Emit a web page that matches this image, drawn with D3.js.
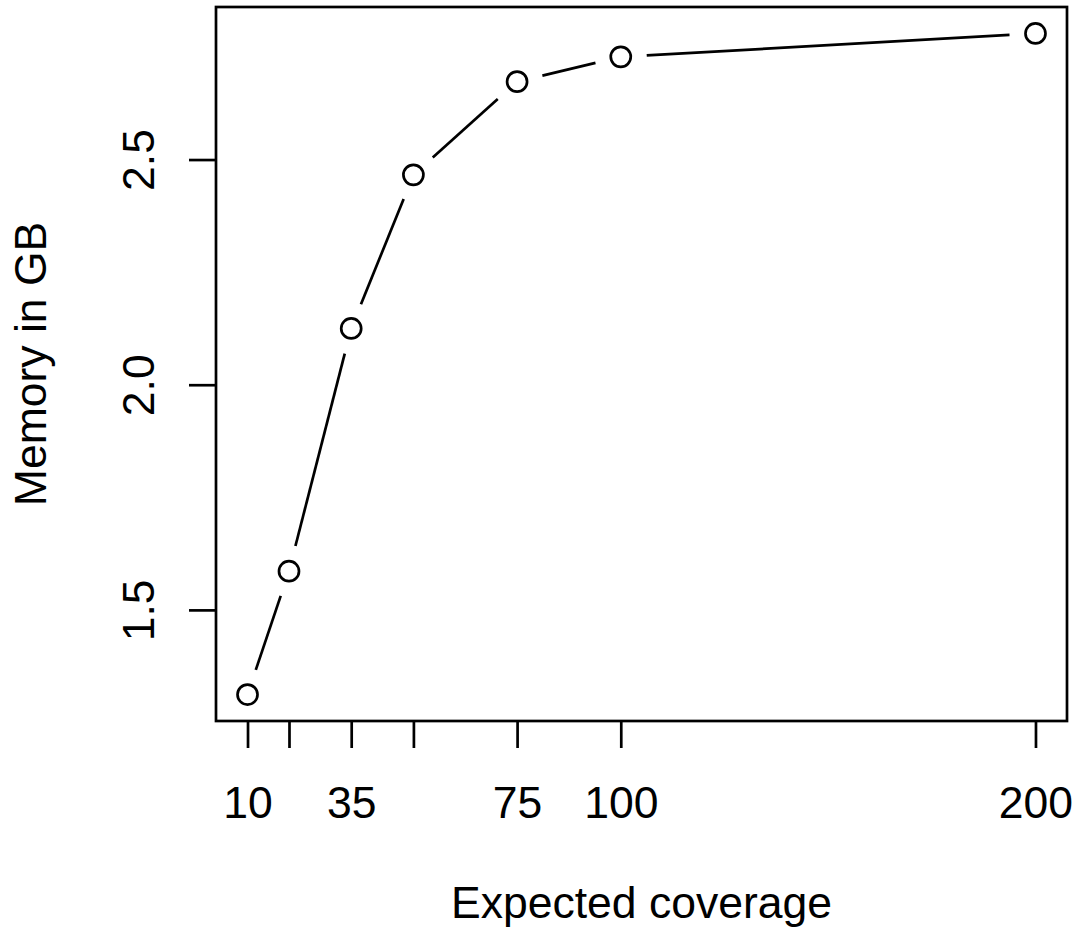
<!DOCTYPE html>
<html>
<head>
<meta charset="utf-8">
<script src="https://cdn.jsdelivr.net/npm/d3@7"></script>
<style>
  html, body { margin: 0; padding: 0; background: #fff; }
  svg { display: block; }
  text { font-family: "Liberation Sans", Arial, sans-serif; fill: #000; }
</style>
</head>
<body>
<script>
// ---- data ----
const coverage = [10, 20, 35, 50, 75, 100, 200];
const memoryGB = [1.312, 1.586, 2.125, 2.466, 2.673, 2.728, 2.780];
const xTickValues = [10, 20, 35, 50, 75, 100, 200];
const xTickLabels = ["10", "", "35", "", "75", "100", "200"];
const yTickValues = [1.5, 2.0, 2.5];
const yTickLabels = ["1.5", "2.0", "2.5"];
const xTitle = "Expected coverage";
const yTitle = "Memory in GB";

// ---- layout ----
const W = 1078, H = 942;
const pL = 216, pR = 1067, pT = 7, pB = 721;
const fontSize = 44.5;
const lw = 2.7;

const svg = d3.select("body").append("svg").attr("width", W).attr("height", H);
svg.append("rect").attr("width", W).attr("height", H).attr("fill", "#fff");

// R-style 4% domain expansion
function pad(ext) { const r = ext[1] - ext[0]; return [ext[0] - 0.04 * r, ext[1] + 0.04 * r]; }
const x = d3.scaleLinear().domain(pad(d3.extent(coverage))).range([pL, pR]);
const y = d3.scaleLinear().domain(pad(d3.extent(memoryGB))).range([pB, pT]);

// x axis
const xAxis = svg.append("g").attr("transform", `translate(0,${pB})`)
  .call(d3.axisBottom(x).tickValues(xTickValues)
    .tickFormat((d, i) => xTickLabels[i]).tickSize(27).tickSizeOuter(0));
xAxis.select(".domain").remove();
xAxis.selectAll(".tick line").attr("stroke", "#000").attr("stroke-width", lw);
xAxis.selectAll(".tick text").attr("y", 818 - pB).attr("dy", 0)
  .attr("font-size", fontSize).attr("font-family", "Liberation Sans, Arial, sans-serif")
  .attr("fill", "#000");

// y axis
const yAxis = svg.append("g").attr("transform", `translate(${pL},0)`)
  .call(d3.axisLeft(y).tickValues(yTickValues)
    .tickFormat((d, i) => yTickLabels[i]).tickSize(27).tickSizeOuter(0));
yAxis.select(".domain").remove();
yAxis.selectAll(".tick line").attr("stroke", "#000").attr("stroke-width", lw);
yAxis.selectAll(".tick text")
  .attr("x", 0).attr("y", 0).attr("dy", 0)
  .attr("transform", `translate(${154 - pL},0) rotate(-90)`)
  .attr("text-anchor", "middle")
  .attr("font-size", fontSize).attr("font-family", "Liberation Sans, Arial, sans-serif")
  .attr("fill", "#000");

// box
svg.append("rect").attr("x", pL).attr("y", pT)
  .attr("width", pR - pL).attr("height", pB - pT)
  .attr("fill", "none").attr("stroke", "#000").attr("stroke-width", lw);

// data: type="b" segments with gaps
const pts = coverage.map((c, i) => [x(c), y(memoryGB[i])]);
const gap = 26;
const segs = [];
for (let i = 0; i < pts.length - 1; i++) {
  const [x1, y1] = pts[i], [x2, y2] = pts[i + 1];
  const dx = x2 - x1, dy = y2 - y1, L = Math.hypot(dx, dy);
  if (L > 2 * gap) {
    const ux = dx / L, uy = dy / L;
    segs.push([x1 + ux * gap, y1 + uy * gap, x2 - ux * gap, y2 - uy * gap]);
  }
}
svg.append("g").selectAll("line").data(segs).join("line")
  .attr("x1", d => d[0]).attr("y1", d => d[1])
  .attr("x2", d => d[2]).attr("y2", d => d[3])
  .attr("stroke", "#000").attr("stroke-width", lw);

svg.append("g").selectAll("circle").data(coverage).join("circle")
  .attr("cx", (d) => x(d)).attr("cy", (d, i) => y(memoryGB[i]))
  .attr("r", 10).attr("fill", "none").attr("stroke", "#000").attr("stroke-width", lw);

// titles
svg.append("text").attr("x", (pL + pR) / 2).attr("y", 918)
  .attr("text-anchor", "middle").attr("font-size", fontSize).text(xTitle);
svg.append("text")
  .attr("transform", `translate(46,${(pT + pB) / 2}) rotate(-90)`)
  .attr("text-anchor", "middle").attr("font-size", fontSize).text(yTitle);
</script>
</body>
</html>
